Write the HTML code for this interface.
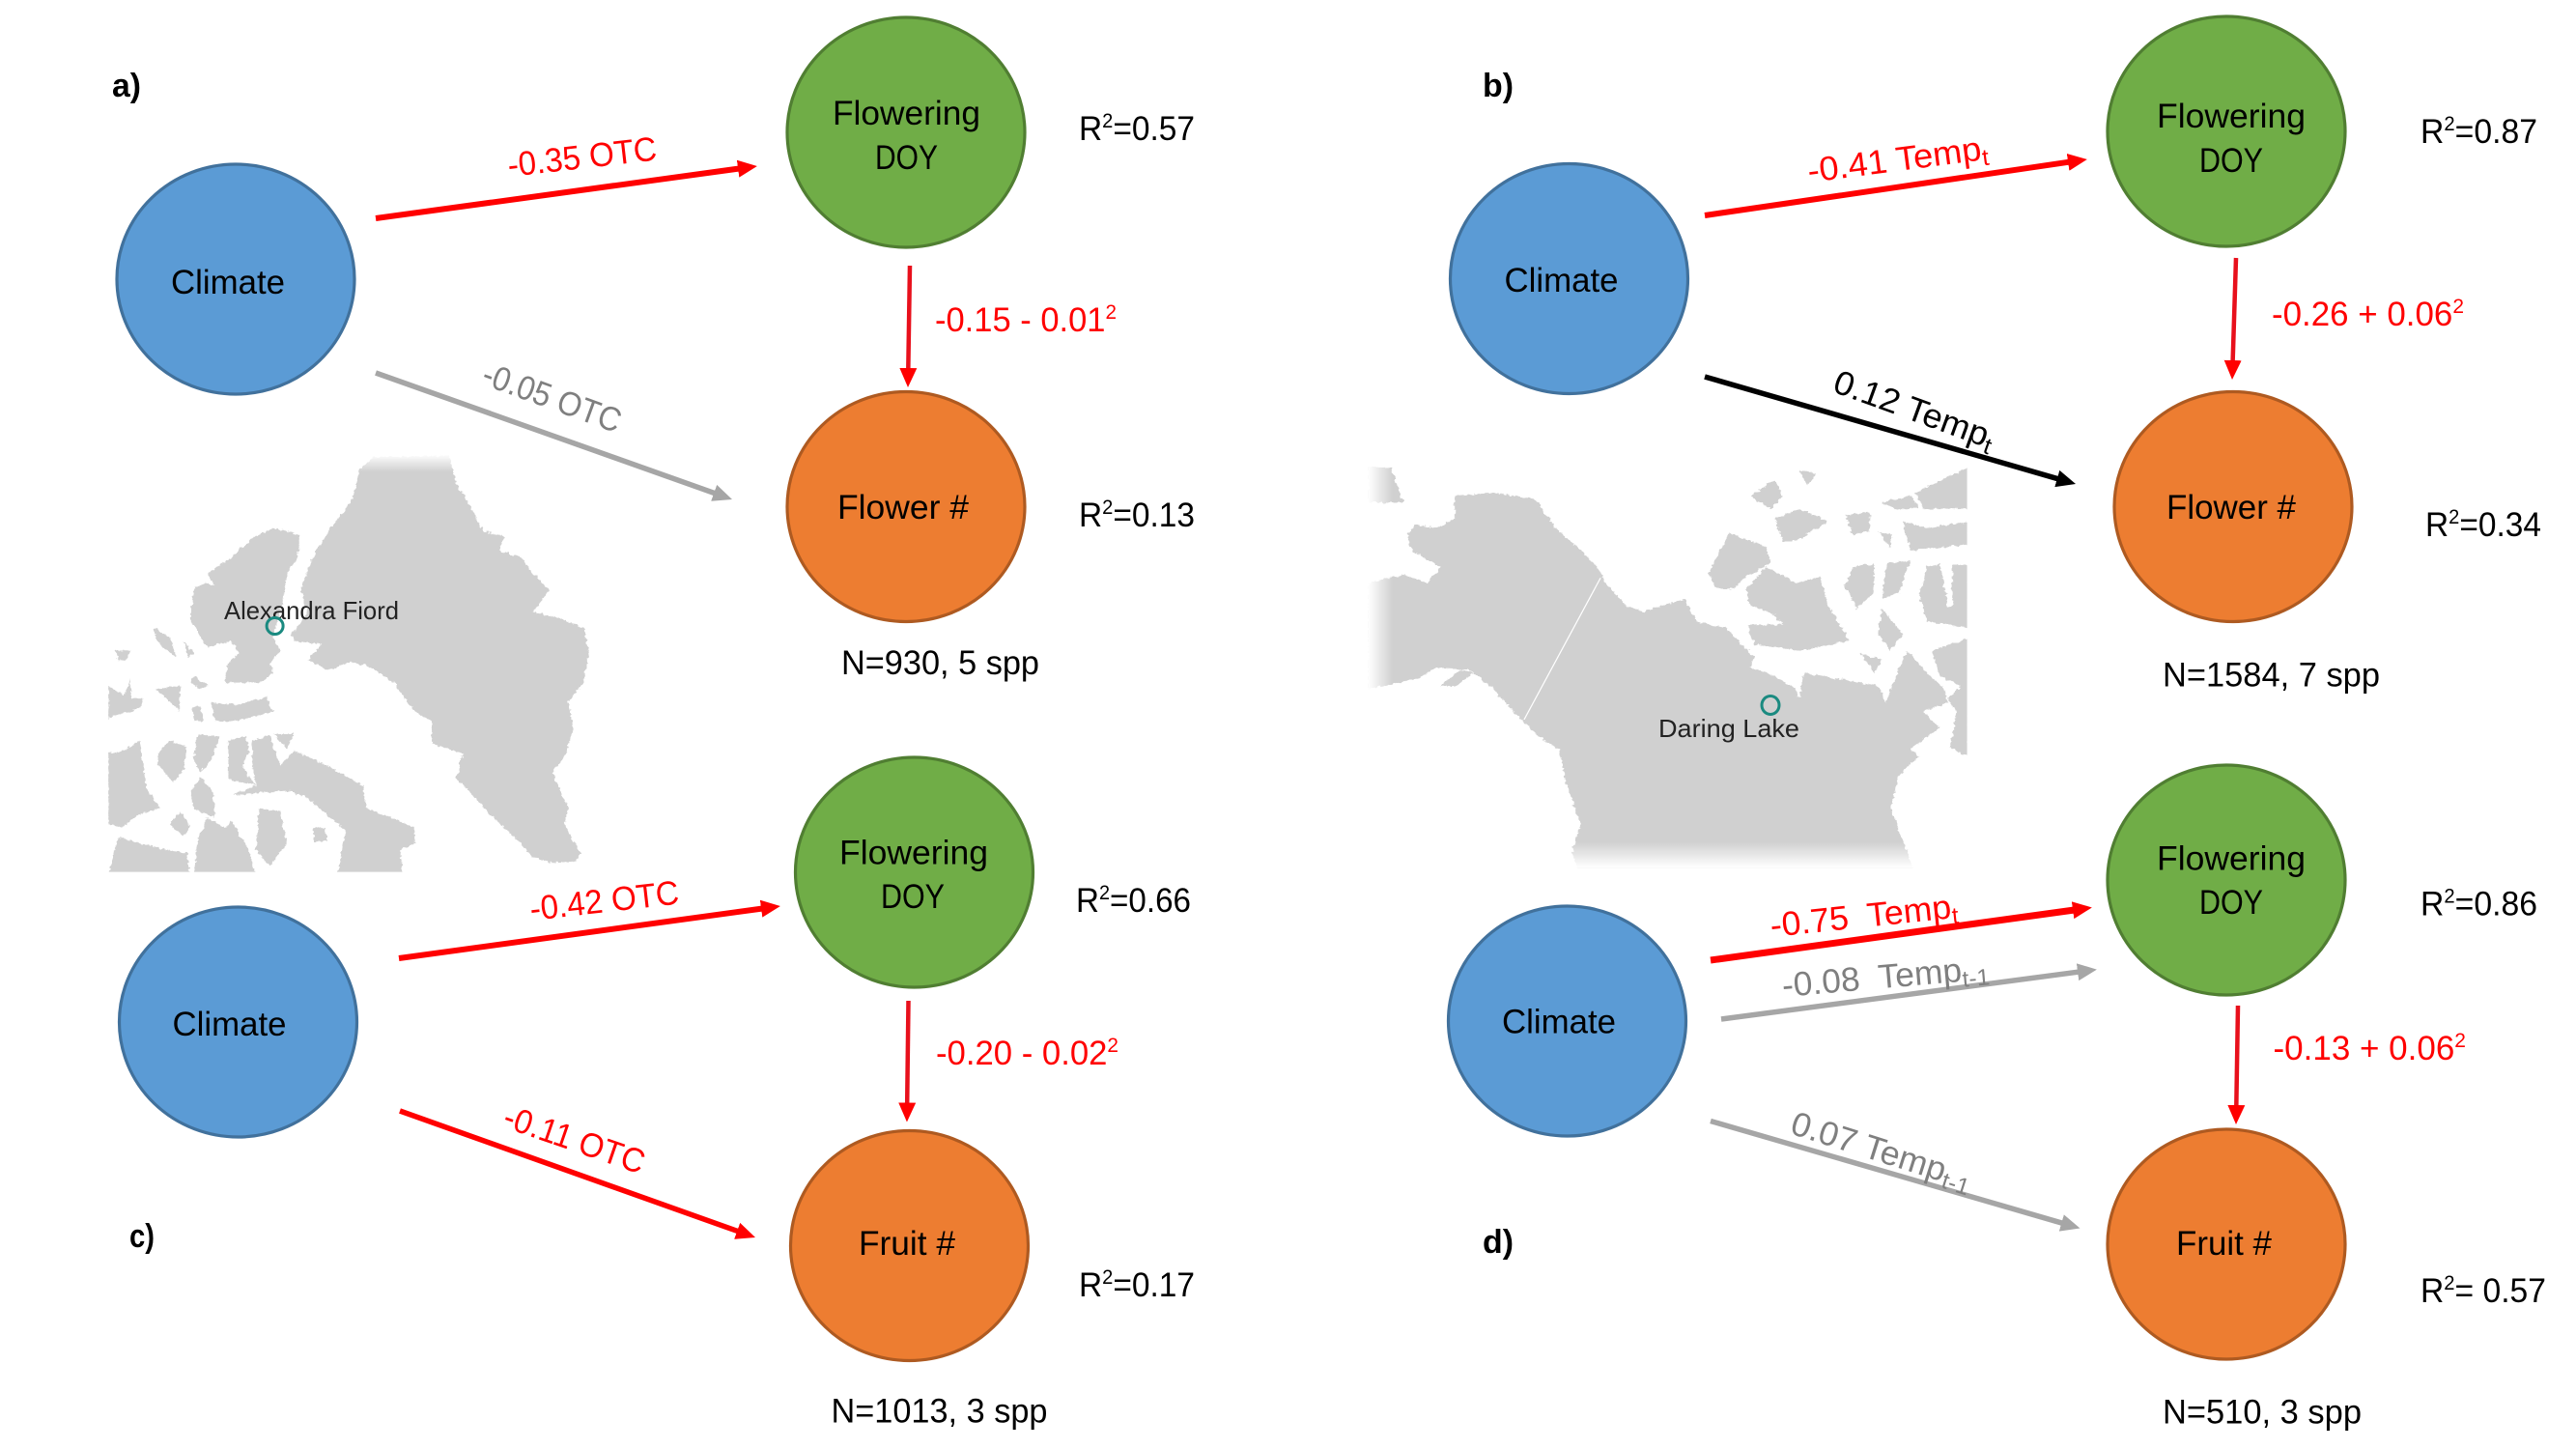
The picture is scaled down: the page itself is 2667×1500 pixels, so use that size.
<!DOCTYPE html>
<html lang="en">
<head>
<meta charset="utf-8">
<title>Climate path diagrams</title>
<style>
html,body{margin:0;padding:0;background:#fff;width:2667px;height:1500px;overflow:hidden}
svg{display:block}
text{font-family:"Liberation Sans",Arial,sans-serif;font-size:35px;fill:#000}
.node{stroke-width:3.2}
.blue{fill:#5B9BD5;stroke:#41719C}
.green{fill:#70AD47;stroke:#507E32}
.orange{fill:#ED7D31;stroke:#AE5A21}
.red{fill:#f00}
.gray{fill:#7f7f7f}
.sup{font-size:21px}
.sub{font-size:24px}
.panel{font-weight:bold;font-size:34px}
.land{fill:#d0d0d0}
.maplabel{font-size:26px;fill:#222}
</style>
</head>
<body>
<svg xmlns="http://www.w3.org/2000/svg" width="2667" height="1500" viewBox="0 0 2667 1500">
<defs>
<marker id="hr" markerUnits="userSpaceOnUse" viewBox="0 0 20 20" markerWidth="20" markerHeight="20" refX="8" refY="10" orient="auto"><path d="M0 1L20 10L0 19z" fill="#f00"/></marker>
<marker id="hg" markerUnits="userSpaceOnUse" viewBox="0 0 20 20" markerWidth="20" markerHeight="20" refX="8" refY="10" orient="auto"><path d="M0 1L20 10L0 19z" fill="#a6a6a6"/></marker>
<marker id="hk" markerUnits="userSpaceOnUse" viewBox="0 0 20 20" markerWidth="20" markerHeight="20" refX="8" refY="10" orient="auto"><path d="M0 1L20 10L0 19z" fill="#000"/></marker>
<filter id="rough" x="-5%" y="-5%" width="110%" height="110%"><feTurbulence type="fractalNoise" baseFrequency="0.08" numOctaves="3" seed="4"/><feDisplacementMap in="SourceGraphic" scale="14" xChannelSelector="R" yChannelSelector="G"/></filter>
<clipPath id="clipA"><rect x="62" y="30" width="1420" height="1298"/></clipPath>
<clipPath id="clipB"><rect x="15" y="40" width="1451" height="1260"/></clipPath>
<linearGradient id="fadeTop" x1="0" y1="0" x2="0" y2="1"><stop offset="0" stop-color="#fff"/><stop offset="1" stop-color="#fff" stop-opacity="0"/></linearGradient>
<linearGradient id="fadeBottom" x1="0" y1="0" x2="0" y2="1"><stop offset="0" stop-color="#fff" stop-opacity="0"/><stop offset="1" stop-color="#fff"/></linearGradient>
<linearGradient id="fadeLeft" x1="0" y1="0" x2="1" y2="0"><stop offset="0" stop-color="#fff"/><stop offset="1" stop-color="#fff" stop-opacity="0"/></linearGradient>
</defs>

<!-- Map A -->
<g transform="translate(90,460) scale(.3571,.3333)">
<g clip-path="url(#clipA)">
<g filter="url(#rough)">
<path class="land" d="M790,80 830,40 1050,35 1070,120 1110,190 1150,270 1210,285 1195,330 1260,350 1290,400 1340,450 1310,500 1290,520 1370,540 1440,570 1455,650 1440,740 1395,800 1410,880 1390,960 1350,1020 1370,1070 1395,1130 1385,1180 1430,1270 1420,1295 1340,1300 1290,1280 1230,1210 1160,1140 1110,1080 1070,1040 1090,960 1000,930 1000,860 950,830 890,740 820,690 760,675 700,700 640,670 680,620 600,610 595,590 640,520 620,450 650,360 700,270 770,170z"/>
<path class="land" d="M350,400 420,350 480,290 540,260 620,280 610,350 580,400 570,480 540,600 560,640 530,680 540,710 500,740 400,740 410,680 440,650 420,610 350,630 330,600 300,540 310,450 340,430 370,440z
M360,800 430,810 520,785 540,830 430,860 370,860z
M310,720 350,750 330,760 300,740z
M305,815 330,815 338,860 310,860z
M62,750 110,780 125,730 130,790 165,790 150,820 62,850z
M195,570 240,600 260,660 220,630 200,600z
M85,640 130,640 110,670 90,670z
M280,610 310,650 295,660z
M200,760 270,750 270,830 240,800z
M62,960 110,950 150,920 165,1000 170,1060 210,1130 150,1150 100,1190 62,1180z
M205,960 240,920 290,940 280,1010 250,1050 210,1000z
M320,900 385,910 360,980 330,1020 310,980z
M300,1080 330,1030 365,1080 370,1160 310,1130z
M410,920 460,905 470,950 450,1000 490,1060 410,1040z
M480,920 530,905 560,1000 600,950 700,1000 800,1060 810,1130 950,1190 950,1240 910,1260 915,1340 725,1340 750,1200 640,1100 590,1075 420,1090 490,1060 480,1000z
M540,900 600,900 580,945z
M240,1180 270,1140 300,1190 280,1220z
M350,1160 400,1190 420,1170 470,1260 490,1340 310,1340 320,1230z
M500,1130 560,1140 580,1240 530,1310 490,1260z
M62,1340 90,1220 160,1240 230,1260 290,1270 300,1340z
M655,1190 690,1190 695,1230 660,1235z"/>
</g>
</g>
<rect x="760" y="30" width="320" height="55" fill="url(#fadeTop)"/>
</g>
<text class="maplabel" x="232" y="641" textLength="181" lengthAdjust="spacingAndGlyphs">Alexandra Fiord</text>
<circle cx="284.6" cy="648" r="8.5" fill="none" stroke="#1a8a80" stroke-width="3"/>

<!-- Map B -->
<g transform="translate(1410,470) scale(.4274,.3333)">
<g clip-path="url(#clipB)">
<g filter="url(#rough)">
<path class="land" d="M225,130 320,120 420,140 470,230 530,300 570,350 590,400 640,470 680,490 780,450 810,520 880,540 950,630 940,660 1000,690 1050,730 1060,760 1070,680 1160,700 1250,720 1270,770 1290,700 1320,610 1370,680 1410,730 1420,770 1360,800 1400,850 1330,915 1350,940 1300,1000 1280,1100 1310,1200 1340,1300 520,1300 510,1230 530,1150 490,1000 480,920 430,880 390,830 310,720 260,670 180,665 130,700 15,730 15,400 100,375 160,400 190,350 120,300 110,250 130,220 180,230 225,200z"/>
<path class="land" d="M190,720 240,670 270,680 230,720z
M15,40 70,40 100,150 40,150 15,150z
M840,370 890,245 980,290 990,340 930,380 900,420 860,420z
M930,420 980,350 1050,400 1110,380 1130,470 1180,580 1100,600 1060,610 950,590 935,530 1020,530 1000,500 940,470z
M940,130 1000,80 1020,130 990,170z
M1000,200 1060,170 1130,210 1050,270 1020,270z
M1060,50 1100,60 1080,100z
M1260,150 1330,130 1350,170 1290,170z
M1310,210 1370,230 1470,210 1470,280 1330,300z
M1340,120 1470,40 1470,170 1360,170z
M1170,190 1230,180 1230,240 1190,250z
M1250,240 1285,250 1280,290z
M1190,350 1240,340 1240,430 1200,480 1170,410z
M1270,340 1330,330 1300,430 1260,450z
M1350,440 1370,350 1400,340 1420,480 1370,520z
M1430,345 1470,345 1470,540 1370,520 1430,470z
M1260,480 1310,560 1280,610 1250,560z
M1210,620 1260,640 1240,680z
M1430,590 1470,570 1470,940 1425,910 1440,800 1420,760 1450,720 1400,690 1380,610z"/>
</g>
</g>
<line x1="578" y1="385" x2="393" y2="825" stroke="#fff" stroke-width="3"/>
<rect x="15" y="40" width="60" height="720" fill="url(#fadeLeft)"/>
<rect x="480" y="1205" width="900" height="80" fill="url(#fadeBottom)"/>
<rect x="480" y="1285" width="900" height="30" fill="#fff"/>
</g>
<ellipse cx="1833" cy="730" rx="9" ry="9.5" fill="none" stroke="#1a8a80" stroke-width="3"/>
<text class="maplabel" x="1717" y="763" textLength="146" lengthAdjust="spacingAndGlyphs">Daring Lake</text>

<!-- Panel a -->
<g>
<text class="panel" x="116" y="100" textLength="30" lengthAdjust="spacingAndGlyphs">a)</text>
<ellipse class="node blue" cx="244" cy="289" rx="123" ry="119"/>
<ellipse class="node green" cx="938" cy="137" rx="123" ry="119"/>
<ellipse class="node orange" cx="938" cy="524.5" rx="123" ry="119"/>
<text x="177" y="304" textLength="118" lengthAdjust="spacingAndGlyphs">Climate</text>
<text x="862" y="129" textLength="153" lengthAdjust="spacingAndGlyphs">Flowering</text>
<text x="906" y="175" textLength="65" lengthAdjust="spacingAndGlyphs">DOY</text>
<text x="867" y="537" textLength="136" lengthAdjust="spacingAndGlyphs">Flower #</text>
<line x1="389" y1="226" x2="772" y2="173.6" stroke="#f00" stroke-width="6" marker-end="url(#hr)"/>
<line x1="389" y1="386" x2="746.7" y2="513" stroke="#a6a6a6" stroke-width="5.5" marker-end="url(#hg)"/>
<line x1="942" y1="275" x2="940.2" y2="389" stroke="#e8101c" stroke-width="4.5" marker-end="url(#hr)"/>
<text class="red" x="527" y="183" transform="rotate(-6.5 527 183)" textLength="155" lengthAdjust="spacingAndGlyphs">-0.35 OTC</text>
<text class="gray" x="497" y="397" transform="rotate(20 497 397)" textLength="150" lengthAdjust="spacingAndGlyphs">-0.05 OTC</text>
<text class="red" x="968" y="343" textLength="188" lengthAdjust="spacingAndGlyphs">-0.15 - 0.01<tspan class="sup" dy="-13">2</tspan></text>
<text x="1117" y="145" textLength="120" lengthAdjust="spacingAndGlyphs">R<tspan class="sup" dy="-13">2</tspan><tspan dy="13">=0.57</tspan></text>
<text x="1117" y="545" textLength="120" lengthAdjust="spacingAndGlyphs">R<tspan class="sup" dy="-13">2</tspan><tspan dy="13">=0.13</tspan></text>
<text x="871" y="698" textLength="205" lengthAdjust="spacingAndGlyphs">N=930, 5 spp</text>
</g>

<!-- Panel b -->
<g>
<text class="panel" x="1535" y="100" textLength="32" lengthAdjust="spacingAndGlyphs">b)</text>
<ellipse class="node blue" cx="1624.5" cy="288.5" rx="123" ry="119"/>
<ellipse class="node green" cx="2305" cy="136" rx="123" ry="119"/>
<ellipse class="node orange" cx="2312" cy="524.5" rx="123" ry="119"/>
<text x="1557.5" y="302" textLength="118" lengthAdjust="spacingAndGlyphs">Climate</text>
<text x="2233" y="132" textLength="154" lengthAdjust="spacingAndGlyphs">Flowering</text>
<text x="2277" y="178" textLength="66" lengthAdjust="spacingAndGlyphs">DOY</text>
<text x="2243" y="537" textLength="134" lengthAdjust="spacingAndGlyphs">Flower #</text>
<line x1="1765" y1="223" x2="2149" y2="166.7" stroke="#f00" stroke-width="6" marker-end="url(#hr)"/>
<line x1="1765" y1="390" x2="2137.5" y2="497.7" stroke="#000" stroke-width="5.5" marker-end="url(#hk)"/>
<line x1="2315" y1="267" x2="2311.4" y2="381" stroke="#e8101c" stroke-width="4.5" marker-end="url(#hr)"/>
<text class="red" x="1873" y="189" transform="rotate(-7.5 1873 189)" textLength="188" lengthAdjust="spacingAndGlyphs">-0.41 Temp<tspan class="sub" dy="6">t</tspan></text>
<text x="1896" y="405" transform="rotate(20 1896 405)" textLength="175" lengthAdjust="spacingAndGlyphs">0.12 Temp<tspan class="sub" dy="6">t</tspan></text>
<text class="red" x="2352" y="337" textLength="199" lengthAdjust="spacingAndGlyphs">-0.26 + 0.06<tspan class="sup" dy="-13">2</tspan></text>
<text x="2506" y="148" textLength="121" lengthAdjust="spacingAndGlyphs">R<tspan class="sup" dy="-13">2</tspan><tspan dy="13">=0.87</tspan></text>
<text x="2511" y="555" textLength="120" lengthAdjust="spacingAndGlyphs">R<tspan class="sup" dy="-13">2</tspan><tspan dy="13">=0.34</tspan></text>
<text x="2239" y="710.5" textLength="225" lengthAdjust="spacingAndGlyphs">N=1584, 7 spp</text>
</g>

<!-- Panel c -->
<g>
<text class="panel" x="134" y="1291" textLength="26" lengthAdjust="spacingAndGlyphs">c)</text>
<ellipse class="node blue" cx="246.5" cy="1058" rx="123" ry="119"/>
<ellipse class="node green" cx="946.5" cy="903" rx="123" ry="119"/>
<ellipse class="node orange" cx="941.5" cy="1289.5" rx="123" ry="119"/>
<text x="178.5" y="1072" textLength="118" lengthAdjust="spacingAndGlyphs">Climate</text>
<text x="869" y="894.5" textLength="154" lengthAdjust="spacingAndGlyphs">Flowering</text>
<text x="912" y="940" textLength="66" lengthAdjust="spacingAndGlyphs">DOY</text>
<text x="889" y="1299" textLength="100" lengthAdjust="spacingAndGlyphs">Fruit #</text>
<line x1="413" y1="992" x2="796" y2="939.6" stroke="#f00" stroke-width="6" marker-end="url(#hr)"/>
<line x1="414" y1="1150" x2="770.7" y2="1277" stroke="#f00" stroke-width="5.5" marker-end="url(#hr)"/>
<line x1="940.5" y1="1036" x2="939.1" y2="1149.5" stroke="#e8101c" stroke-width="4.5" marker-end="url(#hr)"/>
<text class="red" x="550" y="953" transform="rotate(-6.5 550 953)" textLength="155" lengthAdjust="spacingAndGlyphs">-0.42 OTC</text>
<text class="red" x="519" y="1166" transform="rotate(19 519 1166)" textLength="152" lengthAdjust="spacingAndGlyphs">-0.11 OTC</text>
<text class="red" x="969" y="1102" textLength="189" lengthAdjust="spacingAndGlyphs">-0.20 - 0.02<tspan class="sup" dy="-13">2</tspan></text>
<text x="1114" y="944" textLength="119" lengthAdjust="spacingAndGlyphs">R<tspan class="sup" dy="-13">2</tspan><tspan dy="13">=0.66</tspan></text>
<text x="1117" y="1342" textLength="120" lengthAdjust="spacingAndGlyphs">R<tspan class="sup" dy="-13">2</tspan><tspan dy="13">=0.17</tspan></text>
<text x="860.5" y="1472.5" textLength="224" lengthAdjust="spacingAndGlyphs">N=1013, 3 spp</text>
</g>

<!-- Panel d -->
<g>
<text class="panel" x="1535" y="1297" textLength="32" lengthAdjust="spacingAndGlyphs">d)</text>
<ellipse class="node blue" cx="1622.5" cy="1057" rx="123" ry="119"/>
<ellipse class="node green" cx="2305" cy="911" rx="123" ry="119"/>
<ellipse class="node orange" cx="2305" cy="1288" rx="123" ry="119"/>
<text x="1555" y="1069.6" textLength="118" lengthAdjust="spacingAndGlyphs">Climate</text>
<text x="2233" y="900.7" textLength="154" lengthAdjust="spacingAndGlyphs">Flowering</text>
<text x="2277" y="946" textLength="66" lengthAdjust="spacingAndGlyphs">DOY</text>
<text x="2253" y="1299" textLength="99" lengthAdjust="spacingAndGlyphs">Fruit #</text>
<line x1="1771" y1="994" x2="2154" y2="941.1" stroke="#f00" stroke-width="7" marker-end="url(#hr)"/>
<line x1="1782" y1="1055" x2="2159" y2="1005.2" stroke="#a6a6a6" stroke-width="5.5" marker-end="url(#hg)"/>
<line x1="1771" y1="1160.5" x2="2142" y2="1268.2" stroke="#a6a6a6" stroke-width="5.5" marker-end="url(#hg)"/>
<line x1="2317" y1="1041" x2="2315.2" y2="1152" stroke="#e8101c" stroke-width="4.5" marker-end="url(#hr)"/>
<text class="red" x="1848" y="978" transform="translate(-14,-8) rotate(-6 1848 978)" textLength="195" lengthAdjust="spacingAndGlyphs" xml:space="preserve">-0.75  Temp<tspan class="sub" dy="6">t</tspan></text>
<text class="gray" x="1860" y="1037" transform="translate(-14,-5) rotate(-5 1860 1037)" textLength="215" lengthAdjust="spacingAndGlyphs" xml:space="preserve">-0.08  Temp<tspan class="sub" dy="6">t-1</tspan></text>
<text class="gray" x="1852" y="1173" transform="rotate(17.6 1852 1173)" textLength="195" lengthAdjust="spacingAndGlyphs">0.07 Temp<tspan class="sub" dy="6">t-1</tspan></text>
<text class="red" x="2353.5" y="1097" textLength="199.5" lengthAdjust="spacingAndGlyphs">-0.13 + 0.06<tspan class="sup" dy="-13">2</tspan></text>
<text x="2506" y="947.6" textLength="121" lengthAdjust="spacingAndGlyphs">R<tspan class="sup" dy="-13">2</tspan><tspan dy="13">=0.86</tspan></text>
<text x="2506" y="1348" textLength="130" lengthAdjust="spacingAndGlyphs" xml:space="preserve">R<tspan class="sup" dy="-13">2</tspan><tspan dy="13">= 0.57</tspan></text>
<text x="2239" y="1473.5" textLength="206" lengthAdjust="spacingAndGlyphs">N=510, 3 spp</text>
</g>
</svg>
</body>
</html>
